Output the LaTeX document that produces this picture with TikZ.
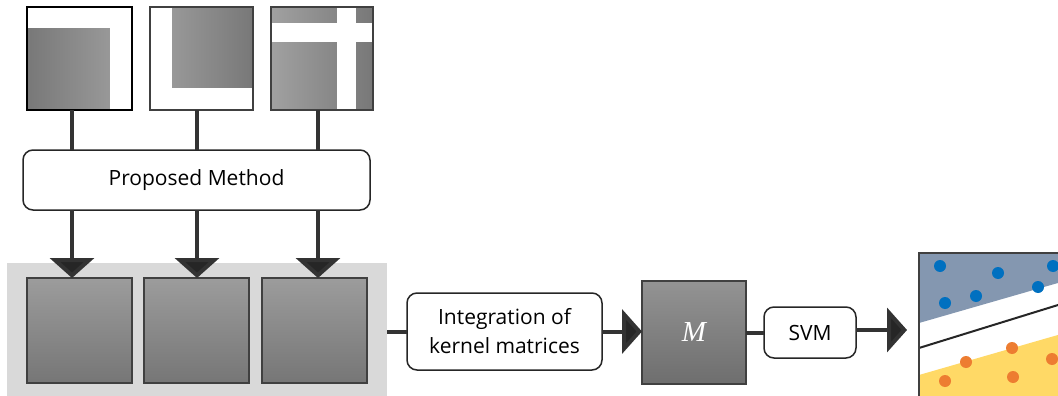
\documentclass[tikz,border=0pt]{standalone}
\usepackage{fontspec}
\setmainfont{Open Sans}
\newfontfamily\mathserif{Liberation Serif}
\usetikzlibrary{arrows.meta}
\definecolor{conn}{HTML}{333333}
\definecolor{tipc}{HTML}{262626}
\definecolor{panelgray}{HTML}{D9D9D9}
\definecolor{bluegray}{HTML}{8497B0}
\definecolor{yel}{HTML}{FFD966}
\definecolor{bdot}{HTML}{0070C0}
\definecolor{odot}{HTML}{ED7D31}
\definecolor{boxedge}{HTML}{404040}
\definecolor{ktop}{HTML}{9C9C9C}
\definecolor{kbot}{HTML}{767676}
\definecolor{mtop}{HTML}{939393}
\definecolor{mbot}{HTML}{6E6E6E}
\tikzset{
  conline/.style={line width=4pt, draw=conn},
  arr/.style={line width=4pt, draw=conn, -{Triangle[width=44pt,length=20pt,fill=tipc]}},
  topsq/.style={draw=boxedge, line width=1.5pt, inner sep=0pt, outer sep=0pt, minimum height=103pt},
  ksq/.style={draw=boxedge, line width=1.2pt, inner sep=0pt, outer sep=0pt, top color=ktop, bottom color=kbot, minimum width=105pt, minimum height=105pt},
  rbox/.style={draw=black!85, line width=1.5pt, rounded corners=10pt, fill=white, inner sep=0pt, outer sep=0pt, align=center},
  every node/.style={font=\fontsize{21}{29}\selectfont},
}
\begin{document}
\begin{tikzpicture}[x=1pt, y=-1pt]
\useasboundingbox (0,0) rectangle (1058,396);
% top squares
\node[topsq, draw=black, line width=2pt, minimum width=105pt, left color=black!53, right color=black!37,
  path picture={
    \fill[white] (path picture bounding box.north west) rectangle ([yshift=-21pt]path picture bounding box.north east);
    \fill[white] ([xshift=-22pt]path picture bounding box.north east) rectangle (path picture bounding box.south east);
  }] (s1) at (79.5,58.5) {};
\node[topsq, minimum width=103pt, left color=black!37, right color=black!53,
  path picture={
    \fill[white] (path picture bounding box.north west) rectangle ([xshift=22pt]path picture bounding box.south west);
    \fill[white] (path picture bounding box.south west) rectangle ([yshift=22pt]path picture bounding box.south east);
  }] (s2) at (201.5,58.5) {};
\node[topsq, minimum width=102pt, left color=black!37, right color=black!53,
  path picture={
    \fill[white] ([yshift=-16pt]path picture bounding box.north west) rectangle ([yshift=-35pt]path picture bounding box.north east);
    \fill[white] ([xshift=66pt]path picture bounding box.north west) rectangle ([xshift=85pt]path picture bounding box.south west);
  }] (s3) at (322,58.5) {};
% proposed method
\node[rbox, minimum width=347pt, minimum height=60pt] (pm) at (196.5,180) {Proposed Method};
% grey panel and kernel squares
\begin{scope}
\clip (0,0) rectangle (1058,396);
\node[fill=panelgray, inner sep=0pt, outer sep=0pt, minimum width=380pt, minimum height=137pt] (panel) at (197,331.5) {};
\end{scope}
\node[ksq] (k1) at (79.5,330.5) {};
\node[ksq] (k2) at (196.5,330.5) {};
\node[ksq] (k3) at (314.5,330.5) {};
% columns
\coordinate (c1) at (72,0);
\coordinate (c2) at (197,0);
\coordinate (c3) at (318,0);
\draw[conline] (s1.south -| c1) -- (pm.north -| c1);
\draw[conline] (s2.south -| c2) -- (pm.north -| c2);
\draw[conline] (s3.south -| c3) -- (pm.north -| c3);
\draw[arr] (pm.south -| c1) -- (k1.north -| c1);
\draw[arr] (pm.south -| c2) -- (k2.north -| c2);
\draw[arr] (pm.south -| c3) -- (k3.north -| c3);
% pipeline
\node[rbox, minimum width=195pt, minimum height=77pt] (int) at (504.5,331.5) {Integration of\\kernel matrices};
\node[draw=boxedge, line width=1.2pt, inner sep=0pt, outer sep=0pt, top color=mtop, bottom color=mbot, minimum width=104pt, minimum height=103pt, text=white, font=\fontsize{29}{29}\mathserif\itshape] (m) at (694,332.5) {M};
\node[rbox, minimum width=92pt, minimum height=51pt] (svm) at (810,332.5) {SVM};
\coordinate (resin) at (907,330);
\draw[conline] (int.west -| panel.east) -- (int.west);
\draw[arr] (int.east) -- (m.west |- int.east);
\draw[conline] (m.east) -- (svm.west |- m.east);
\draw[arr] (svm.east |- resin) -- (resin);
% result panel
\begin{scope}
\clip (0,0) rectangle (1058,396);
\fill[white] (919,253) rectangle (1070,400);
\fill[bluegray] (919,253) -- (1070,253) -- (1070,279.5) -- (919,323) -- cycle;
\fill[yel] (919,375) -- (1070,331.5) -- (1070,400) -- (919,400) -- cycle;
\draw[line width=2pt, black!85] (919,348) -- (1070,301.3);
\draw[line width=1.5pt, boxedge] (919,400) -- (919,253) -- (1070,253);
\foreach \p in {(940,266),(998,273),(1053,266),(976,296),(945,303),(1038,287)}
  \fill[bdot] \p circle (6pt);
\foreach \p in {(1012,348),(966,362),(1052,359),(945,381),(1013,377)}
  \fill[odot] \p circle (6pt);
\end{scope}
\end{tikzpicture}
\end{document}
